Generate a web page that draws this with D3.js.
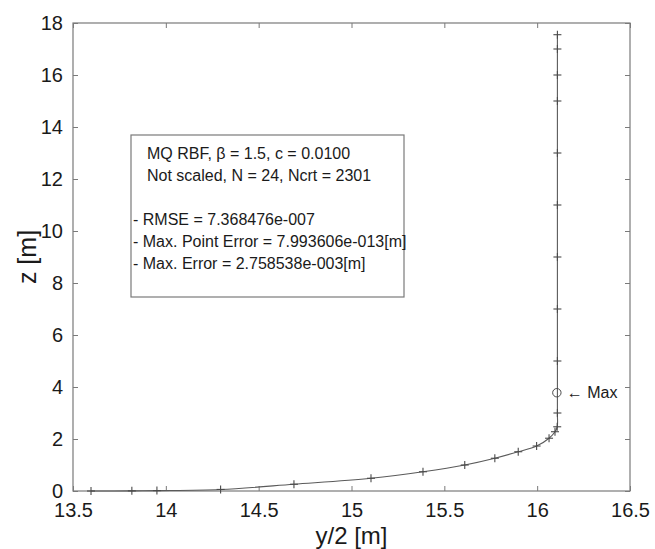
<!DOCTYPE html>
<html>
<head>
<meta charset="utf-8">
<script src="https://cdn.jsdelivr.net/npm/d3@7"></script>
<style>
  body { margin: 0; background: #fff; }
  svg text { font-family: "Liberation Sans", Arial, sans-serif; fill: #1a1a1a; }
</style>
</head>
<body>
<svg id="chart" width="655" height="549"></svg>
<script>
// profile points: y/2 [m] and z [m]
const halfWidth = [13.597, 13.817, 13.952, 14.295, 14.69, 15.105, 15.385, 15.61, 15.772, 15.898,
  15.997, 16.064, 16.096, 16.108, 16.109, 16.109, 16.109, 16.109, 16.109, 16.109, 16.109, 16.109, 16.109, 16.109];
const height = [0, 0.005, 0.015, 0.06, 0.26, 0.49, 0.74, 1.0, 1.26, 1.51,
  1.73, 2.03, 2.28, 2.47, 3, 5, 7, 9, 11, 13, 15, 16, 17, 17.55];

const maxPoint = { x: 16.106, z: 3.78 };

const xTicks = [13.5, 14, 14.5, 15, 15.5, 16, 16.5];
const yTicks = [0, 2, 4, 6, 8, 10, 12, 14, 16, 18];

// first two lines start with a blank in the original, so they sit a bit further right
const infoLines = [
  { text: "MQ RBF, \u03b2 = 1.5, c = 0.0100", indent: true },
  { text: "Not scaled, N = 24, Ncrt = 2301", indent: true },
  { text: "", indent: false },
  { text: "- RMSE = 7.368476e-007", indent: false },
  { text: "- Max. Point Error = 7.993606e-013[m]", indent: false },
  { text: "- Max. Error = 2.758538e-003[m]", indent: false },
];

const margin = { top: 23, right: 25, bottom: 58, left: 73 };
const W = 655, H = 549;
const svg = d3.select("#chart");

const x = d3.scaleLinear().domain([13.5, 16.5]).range([margin.left, W - margin.right]);
const y = d3.scaleLinear().domain([0, 18]).range([H - margin.bottom, margin.top]);

const axisColor = "#7a7a7a";

// ticks on all four sides, pointing inward
function styleAxis(g) {
  g.select(".domain").remove();
  g.selectAll(".tick line").attr("stroke", axisColor);
  g.selectAll(".tick text").attr("font-size", 20).attr("fill", "#1a1a1a");
}

svg.append("g")
  .attr("transform", `translate(0,${y(0)})`)
  .call(d3.axisBottom(x).tickValues(xTicks).tickSizeInner(-5).tickPadding(12).tickFormat(d3.format("")))
  .call(styleAxis);

svg.append("g")
  .attr("transform", `translate(0,${y(18)})`)
  .call(d3.axisTop(x).tickValues(xTicks).tickSizeInner(-5).tickFormat(""))
  .call(styleAxis);

svg.append("g")
  .attr("transform", `translate(${x(13.5)},0)`)
  .call(d3.axisLeft(y).tickValues(yTicks).tickSizeInner(-5).tickPadding(10).tickFormat(d3.format("")))
  .call(styleAxis);

svg.append("g")
  .attr("transform", `translate(${x(16.5)},0)`)
  .call(d3.axisRight(y).tickValues(yTicks).tickSizeInner(-5).tickFormat(""))
  .call(styleAxis);

svg.append("rect")
  .attr("x", x(13.5)).attr("y", y(18))
  .attr("width", x(16.5) - x(13.5)).attr("height", y(0) - y(18))
  .attr("fill", "none").attr("stroke", axisColor).attr("stroke-width", 1.2);

// profile curve
const pts = halfWidth.map((v, i) => [v, height[i]]);
const line = d3.line()
  .x((d) => x(d[0]))
  .y((d) => y(d[1]))
  .curve(d3.curveCatmullRom.alpha(0.5));

svg.append("path")
  .datum(pts)
  .attr("d", line)
  .attr("fill", "none")
  .attr("stroke", "#5a5a5a")
  .attr("stroke-width", 1.1);

// plus markers
const plus = svg.append("g").attr("stroke", "#4a4a4a").attr("stroke-width", 1.1);
pts.forEach((p) => {
  const px = x(p[0]), py = y(p[1]);
  plus.append("line").attr("x1", px - 4).attr("x2", px + 4).attr("y1", py).attr("y2", py);
  plus.append("line").attr("x1", px).attr("x2", px).attr("y1", py - 4).attr("y2", py + 4);
});

// max error point
svg.append("circle")
  .attr("cx", x(maxPoint.x)).attr("cy", y(maxPoint.z)).attr("r", 4.2)
  .attr("fill", "none").attr("stroke", "#4a4a4a").attr("stroke-width", 1);

svg.append("text")
  .attr("x", x(maxPoint.x) + 10).attr("y", y(maxPoint.z) + 5)
  .attr("font-size", 16)
  .text("\u2190 Max");

// info box
const box = svg.append("g");
box.append("rect")
  .attr("x", 131).attr("y", 135).attr("width", 273).attr("height", 162)
  .attr("fill", "#fff").attr("stroke", axisColor).attr("stroke-width", 1.2);

box.selectAll("text")
  .data(infoLines)
  .join("text")
  .attr("x", (d) => (d.indent ? 147 : 133))
  .attr("y", (d, i) => 159 + i * 22)
  .attr("font-size", 16)
  .text((d) => d.text);

// axis labels
svg.append("text")
  .attr("x", (x(13.5) + x(16.5)) / 2).attr("y", 544)
  .attr("text-anchor", "middle")
  .attr("font-size", 24)
  .text("y/2 [m]");

svg.append("text")
  .attr("transform", `translate(36,${(y(0) + y(18)) / 2}) rotate(-90)`)
  .attr("text-anchor", "middle")
  .attr("font-size", 25)
  .text("z [m]");
</script>
</body>
</html>
